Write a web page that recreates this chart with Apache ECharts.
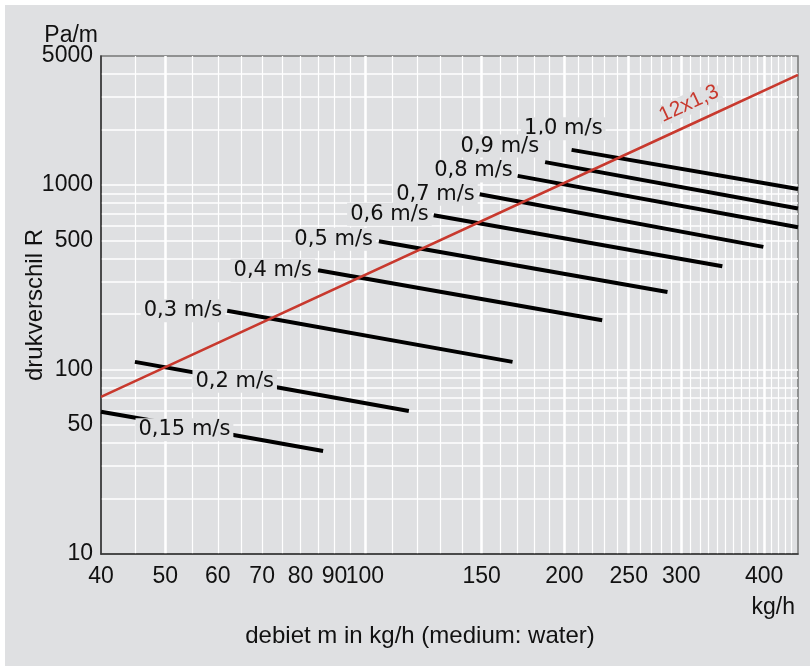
<!DOCTYPE html>
<html>
<head>
<meta charset="utf-8">
<script src="https://cdn.jsdelivr.net/npm/echarts@6/dist/echarts.min.js"></script>
<style>
  html, body { margin: 0; padding: 0; background: #fff; }
  #panel { position: absolute; left: 5px; top: 5px; width: 805px; height: 661px; background: #dfe0e2; }
  #chart { position: absolute; left: 0; top: 0; width: 812px; height: 666px; }
</style>
</head>
<body>
<div id="panel"></div>
<div id="chart"></div>
<script>
// axis ranges (log-log)
const xMin = 40, xMax = 450;
const yMin = 10, yMax = 5000;

// tick labels
const xTickLabels = [40, 50, 60, 70, 80, 90, 100, 150, 200, 250, 300, 400];
const yTickLabels = [10, 50, 100, 500, 1000, 5000];

// grid lines
const xGridThin = [45, 50, 55, 60, 65, 70, 75, 80, 85, 90, 95, 100,
  110, 120, 130, 140, 150, 160, 170, 180, 190, 200, 210, 220, 230, 240, 250,
  260, 270, 280, 290, 300, 310, 320, 330, 340, 350, 360, 370, 380, 390, 400,
  410, 420, 430, 440];
const xGridThick = [50, 100, 150, 200, 250, 300, 400];
const yGrid = [20, 30, 40, 50, 60, 70, 80, 90, 100, 200, 300, 400, 500, 600,
  700, 800, 900, 1000, 2000, 3000, 4000];

// velocity lines [kg/h, Pa/m]
const v100 = [[205, 1550], [450, 950]];
const v090 = [[187, 1330], [450, 745]];
const v080 = [[170, 1120], [450, 590]];
const v070 = [[149, 890], [399, 462]];
const v060 = [[127, 685], [346, 363]];
const v050 = [[105, 496], [286, 263]];
const v040 = [[85, 345], [228, 185]];
const v030 = [[62, 208], [167, 110]];
const v020 = [[45, 110], [64.3, 87.5], [116.5, 59.6]];
const v015 = [[40, 59], [54, 48.9], [86.5, 36.2]];

// pipe 12x1,3
const pipe12 = [[40, 71], [313, 2160], [450, 3950]];

const BG = '#dfe0e2';
const FONT = 'Liberation Sans, Arial, Helvetica, sans-serif';
const LABEL_FONT = 'DejaVu Sans, Verdana, sans-serif';
const RED = '#c8392e';

var myChart = echarts.init(document.getElementById('chart'));

function speedSeries(name, data, labelIdx, position, offset) {
  return {
    type: 'line',
    name: name,
    data: data.map(function (p, i) {
      var item = { value: p };
      if (i === labelIdx) {
        item.label = {
          show: true,
          formatter: name,
          position: position,
          distance: 4,
          offset: offset,
          color: '#111',
          fontSize: 21,
          fontFamily: LABEL_FONT,
          backgroundColor: BG,
          padding: [1, 3, 1, 3]
        };
      }
      return item;
    }),
    symbol: 'circle',
    symbolSize: 0,
    silent: true,
    lineStyle: { color: '#000', width: 4, cap: 'butt' },
    z: 3
  };
}

function plainNumber(v) {
  return String(Math.round(v));
}

var options = {
  animation: false,
  grid: {
    left: 101, right: 14, top: 56, bottom: 112,
    show: true,
    backgroundColor: BG,
    borderColor: '#777',
    borderWidth: 1.5,
    outerBoundsMode: 'none'
  },
  xAxis: [
    {
      type: 'log', min: xMin, max: xMax, position: 'bottom',
      name: 'kg/h', nameLocation: 'end', nameGap: -3, nameMoveOverlap: false,
      nameTextStyle: { color: '#111', fontSize: 23, fontFamily: FONT, align: 'right', verticalAlign: 'top', padding: [42, 0, 0, 0] },
      axisLine: { show: true, lineStyle: { color: '#333', width: 1.5 } },
      axisTick: { show: false, customValues: xGridThin },
      axisLabel: { customValues: xTickLabels, formatter: plainNumber, color: '#111', fontSize: 23, fontFamily: FONT, margin: 11, hideOverlap: false },
      splitLine: { show: true, lineStyle: { color: '#fff', width: 1.2 } }
    },
    {
      type: 'log', min: xMin, max: xMax, position: 'bottom',
      name: 'debiet m in kg/h (medium: water)', nameLocation: 'middle', nameGap: 70, nameMoveOverlap: false,
      nameTextStyle: { color: '#111', fontSize: 24, fontFamily: FONT, padding: [0, 59, 0, 0] },
      axisLine: { show: false },
      axisTick: { show: false, customValues: xGridThick },
      axisLabel: { show: false, customValues: xGridThick },
      splitLine: { show: true, lineStyle: { color: '#fff', width: 2.5 } }
    }
  ],
  yAxis: [
    {
      type: 'log', min: yMin, max: yMax, position: 'left',
      name: 'Pa/m', nameLocation: 'end', nameGap: 9, nameMoveOverlap: false,
      nameTextStyle: { color: '#111', fontSize: 23, fontFamily: FONT, align: 'right', padding: [0, 3, 0, 0] },
      axisLine: { show: true, lineStyle: { color: '#333', width: 1.5 } },
      axisTick: { show: false, customValues: yGrid },
      axisLabel: { customValues: yTickLabels, formatter: plainNumber, color: '#111', fontSize: 23, fontFamily: FONT, margin: 8, hideOverlap: false },
      splitLine: { show: true, lineStyle: { color: '#fff', width: 1.5 } }
    },
    {
      type: 'log', min: yMin, max: yMax, position: 'left',
      name: 'drukverschil R', nameLocation: 'middle', nameRotate: 90, nameGap: 54, nameMoveOverlap: false,
      nameTextStyle: { color: '#111', fontSize: 24, fontFamily: FONT },
      axisLine: { show: false },
      axisTick: { show: false },
      axisLabel: { show: false },
      splitLine: { show: false }
    }
  ],
  series: [
    speedSeries('1,0 m/s', v100, 0, 'left', [38, -21]),
    speedSeries('0,9 m/s', v090, 0, 'left', [1, -16]),
    speedSeries('0,8 m/s', v080, 0, 'left', [2, -5]),
    speedSeries('0,7 m/s', v070, 0, 'left', [2, 0]),
    speedSeries('0,6 m/s', v060, 0, 'left', [2, -1]),
    speedSeries('0,5 m/s', v050, 0, 'left', [1, -2]),
    speedSeries('0,4 m/s', v040, 0, 'left', [1, 0]),
    speedSeries('0,3 m/s', v030, 0, 'left', [2, 0]),
    speedSeries('0,2 m/s', v020, 1, 'inside', [-3, 1]),
    speedSeries('0,15 m/s', v015, 1, 'inside', [-3, 3]),
    {
      type: 'line',
      name: '12x1,3',
      data: pipe12.map(function (p, i) {
        var item = { value: p };
        if (i === 1) {
          item.label = {
            show: true,
            formatter: '12x1,3',
            position: 'top',
            distance: 10,
            rotate: 24.7,
            color: RED,
            fontSize: 21,
            fontFamily: FONT,
            backgroundColor: BG,
            padding: [0, 2, 0, 2]
          };
        }
        return item;
      }),
      symbol: 'circle',
      symbolSize: 0,
      silent: true,
      lineStyle: { color: RED, width: 2.6 },
      z: 4
    }
  ]
};

myChart.setOption(options);
window.addEventListener('resize', function () {
  myChart.resize();
});
</script>
</body>
</html>
